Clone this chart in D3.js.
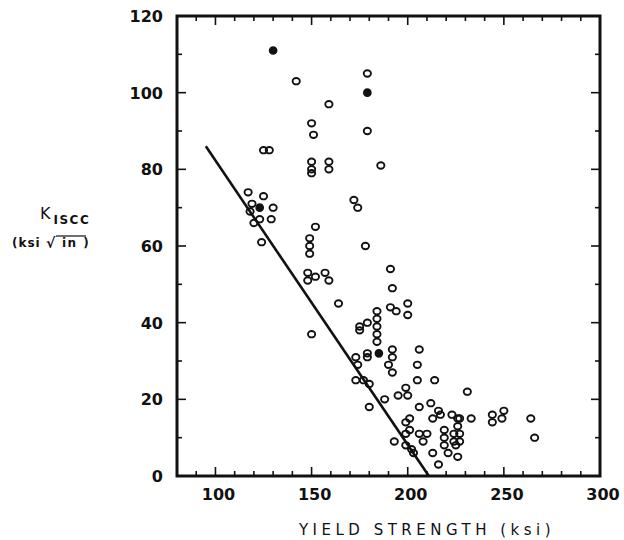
<!DOCTYPE html>
<html>
<head>
<meta charset="utf-8">
<script src="https://cdn.jsdelivr.net/npm/d3@7"></script>
<style>
  body { margin: 0; background: #fff; }
  text { font-family: "DejaVu Sans", sans-serif; fill: #111; }
</style>
</head>
<body>
<div id="chart"></div>
<script>
// yield strength (ksi) vs K_ISCC (ksi sqrt(in))
const openPoints = [
  [142,103],[179,105],[159,97],[150,92],[151,89],[179,90],[125,85],[128,85],
  [150,82],[150,80],[150,79],[159,82],[159,80],[186,81],
  [117,74],[125,73],[119,71],[130,70],[129,67],[120,66],[123,67],[118,69],[124,61],
  [172,72],[174,70],[152,65],[149,62],[149,60],[149,58],[178,60],
  [148,53],[148,51],[152,52],[157,53],[159,51],[164,45],
  [191,54],[192,49],[191,44],[194,43],[200,45],[200,42],
  [184,43],[184,41],[184,39],[175,39],[179,40],[175,38],[184,37],[184,35],[150,37],
  [179,32],[179,31],[192,33],[192,31],[190,29],[192,27],[173,31],[174,29],
  [173,25],[177,25],[180,24],[199,23],[195,21],[200,21],[180,18],[188,20],
  [206,33],[205,29],[205,25],[214,25],[231,22],[206,18],[212,19],[216,17],
  [217,16],[213,15],[223,16],[227,15],[233,15],[244,16],[244,14],[250,17],
  [249,15],[264,15],[266,10],
  [201,15],[199,14],[201,12],[199,11],[206,11],[210,11],[208,9],[199,8],
  [202,7],[203,6],[213,6],[216,3],[219,12],[219,10],[219,8],[221,6],
  [224,11],[224,9],[225,8],[226,15],[226,13],[227,11],[227,9],[226,5],[193,9]
];
const filledPoints = [[130,111],[179,100],[123,70],[185,32]];

// fitted trend line end points
const trendLine = [[95,86],[211,0]];

const xTicks = [100, 150, 200, 250, 300];
const yTicks = [0, 20, 40, 60, 80, 100, 120];

const W = 624, H = 540;
const plotLeft = 177, plotTop = 16, plotRight = 600, plotBottom = 476;

const svg = d3.select('#chart').append('svg').attr('width', W).attr('height', H);

const x = d3.scaleLinear().domain([80, 300]).range([plotLeft, plotRight]);
const y = d3.scaleLinear().domain([0, 120]).range([plotBottom, plotTop]);

// inward ticks on all four sides
const xMinor = d3.range(80, 301, 10);
const yMinor = d3.range(0, 121, 10);
const tickG = svg.append('g').attr('stroke', '#111').attr('stroke-width', 1.6);
xMinor.forEach(v => {
  const len = v % 50 === 0 ? 9 : 5;
  tickG.append('line').attr('x1', x(v)).attr('x2', x(v)).attr('y1', plotBottom).attr('y2', plotBottom - len);
  tickG.append('line').attr('x1', x(v)).attr('x2', x(v)).attr('y1', plotTop).attr('y2', plotTop + len);
});
yMinor.forEach(v => {
  const len = v % 20 === 0 ? 9 : 5;
  tickG.append('line').attr('y1', y(v)).attr('y2', y(v)).attr('x1', plotLeft).attr('x2', plotLeft + len);
  tickG.append('line').attr('y1', y(v)).attr('y2', y(v)).attr('x1', plotRight).attr('x2', plotRight - len);
});

// frame
svg.append('rect')
  .attr('x', plotLeft).attr('y', plotTop)
  .attr('width', plotRight - plotLeft).attr('height', plotBottom - plotTop)
  .attr('fill', 'none').attr('stroke', '#111').attr('stroke-width', 3);

// tick labels
svg.append('g').selectAll('text').data(xTicks).join('text')
  .attr('x', d => x(d) + 3).attr('y', 500)
  .attr('text-anchor', 'middle').attr('font-size', 16).attr('font-weight', 600)
  .text(d => d);
svg.append('g').selectAll('text').data(yTicks).join('text')
  .attr('x', 163).attr('y', d => y(d) + 6)
  .attr('text-anchor', 'end').attr('font-size', 16).attr('font-weight', 600)
  .text(d => d);

// axis titles
svg.append('text')
  .attr('x', 427).attr('y', 535)
  .attr('text-anchor', 'middle').attr('font-size', 15).attr('letter-spacing', 4.5)
  .text('YIELD STRENGTH (ksi)');

const yt = svg.append('text').attr('x', 40).attr('y', 219).attr('font-size', 16);
yt.append('tspan').text('K');
yt.append('tspan').attr('dy', 5).attr('dx', 3).attr('font-size', 12).attr('font-weight', 600)
  .attr('letter-spacing', 1.5).text('ISCC');

svg.append('text').attr('x', 12).attr('y', 247).attr('font-size', 12).attr('font-weight', 700)
  .attr('letter-spacing', 1).text('(ksi');
svg.append('text').attr('x', 46).attr('y', 248).attr('font-size', 14).attr('font-weight', 700)
  .text('\u221A');
svg.append('text').attr('x', 62).attr('y', 247).attr('font-size', 12).attr('font-weight', 700)
  .attr('letter-spacing', 1.5).text('in )');
svg.append('line')
  .attr('x1', 56).attr('x2', 86).attr('y1', 236).attr('y2', 236)
  .attr('stroke', '#111').attr('stroke-width', 1.2);

// trend line
svg.append('path')
  .datum(trendLine)
  .attr('d', d3.line().x(d => x(d[0])).y(d => y(d[1])))
  .attr('fill', 'none').attr('stroke', '#111').attr('stroke-width', 2.6);

// data points
svg.append('g').selectAll('ellipse').data(openPoints).join('ellipse')
  .attr('cx', d => x(d[0])).attr('cy', d => y(d[1]))
  .attr('rx', 3.6).attr('ry', 3.2)
  .attr('fill', 'none').attr('stroke', '#111').attr('stroke-width', 1.9);
svg.append('g').selectAll('ellipse').data(filledPoints).join('ellipse')
  .attr('cx', d => x(d[0])).attr('cy', d => y(d[1]))
  .attr('rx', 3.6).attr('ry', 3.6)
  .attr('fill', '#111').attr('stroke', '#111').attr('stroke-width', 1.5);
</script>
</body>
</html>
